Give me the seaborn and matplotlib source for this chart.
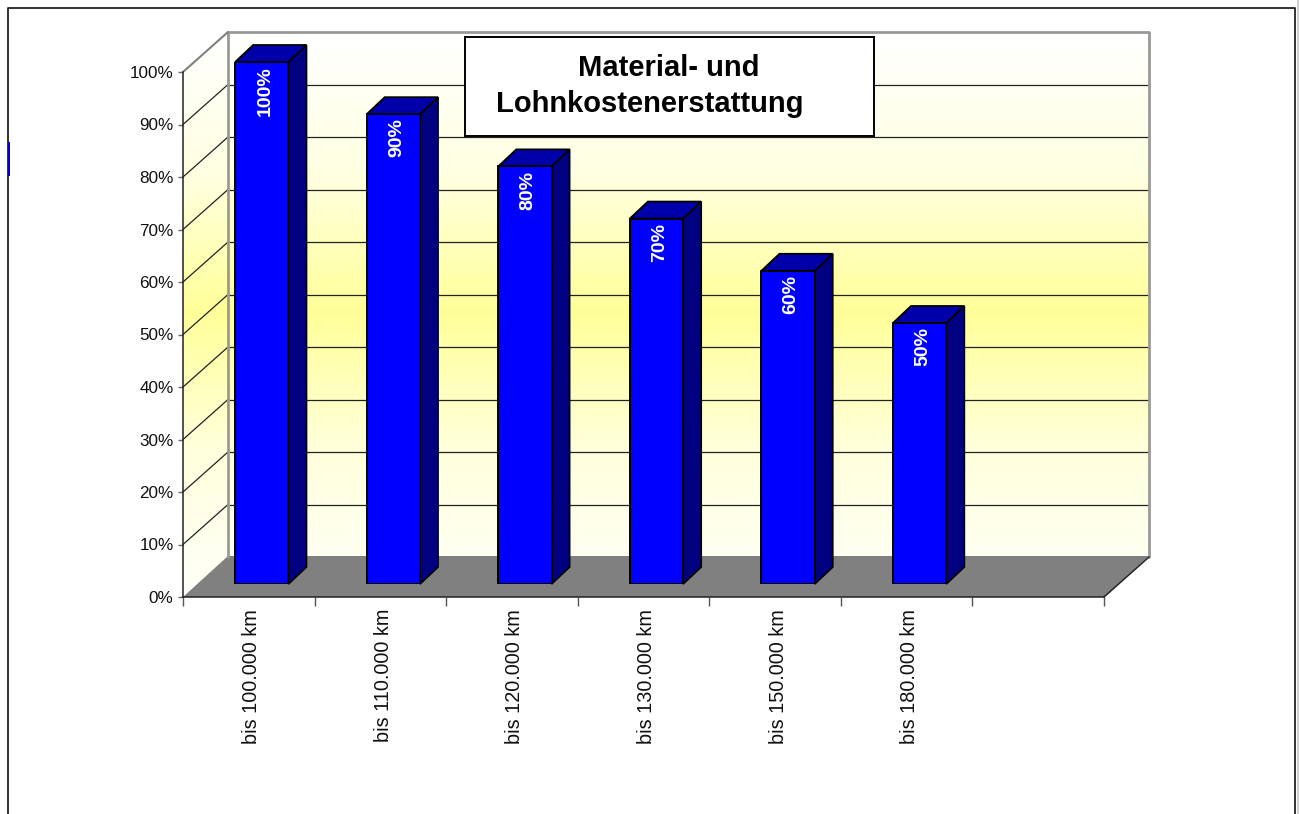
import numpy as np
import pandas as pd
import seaborn as sns
from matplotlib import pyplot as plt
from matplotlib.colors import LinearSegmentedColormap
from matplotlib.patches import Polygon, Rectangle
from matplotlib.transforms import Affine2D, IdentityTransform

sns.set_theme(style='white')
plt.rcParams['font.family'] = ['Liberation Sans', 'DejaVu Sans']

categories = ['bis 100.000 km', 'bis 110.000 km', 'bis 120.000 km',
              'bis 130.000 km', 'bis 150.000 km', 'bis 180.000 km']
erstattung = [100, 90, 80, 70, 60, 50]
bar_labels = ['100%', '90%', '80%', '70%', '60%', '50%']
y_ticks = [0, 10, 20, 30, 40, 50, 60, 70, 80, 90, 100]
y_tick_labels = ['0%', '10%', '20%', '30%', '40%', '50%', '60%', '70%', '80%', '90%', '100%']
title_lines = ['Material- und', 'Lohnkostenerstattung']

W, H = 1299, 814
DEPTH = (45, 40)      # wall depth in px
BAR_DEPTH = (18, 17)  # bar depth in px


def px_axes(fig, left, top, right, bottom, **kw):
    # axes placed by reference pixel coordinates
    return fig.add_axes([left / W, (H - bottom) / H, (right - left) / W, (bottom - top) / H], **kw)


def draw_background(ax):
    ax.set_xlim(0, W)
    ax.set_ylim(H, 0)
    ax.axis('off')

    cmap = LinearSegmentedColormap.from_list('wall', [(0, '#ffffff'), (0.25, '#ffffe2'), (0.5, '#ffff99'),
                                                      (0.75, '#ffffdc'), (1, '#fffff8')])
    grad = np.linspace(0, 1, 256).reshape(-1, 1)
    walls = [[(228, 33), (1149, 33), (1149, 556), (228, 556)],
             [(183, 72), (228, 33), (228, 556), (183, 597)]]
    for pts in walls:
        im = ax.imshow(grad, cmap=cmap, aspect='auto', extent=(183, 1149, 590, 33), zorder=1)
        im.set_clip_path(Polygon(pts, transform=ax.transData))
    ax.set_xlim(0, W)
    ax.set_ylim(H, 0)

    # outer frame, open at the bottom
    ax.plot([8, 8, 1295, 1295], [H, 8, 8, H], color='#222222', lw=1.3, zorder=2)
    ax.add_patch(Rectangle((8, 142), 2, 34, color='#0000cc', lw=0, zorder=3))
    ax.add_patch(Rectangle((1297, 0), 2, H, color='#cfcfcf', lw=0, zorder=3))

    ax.add_patch(Polygon([(183, 597), (1104, 597), (1149, 556), (228, 556)],
                         facecolor='#808080', edgecolor='none', zorder=2))


def draw_walls(ax):
    back = ax.transData + Affine2D().translate(*DEPTH)
    to_disp = ax.transData.transform
    x0, x1 = ax.get_xlim()

    for v in y_ticks[1:-1]:
        ax.plot([x0, x1], [v, v], transform=back, color='#222222', lw=0.9, clip_on=False, zorder=1)
        p = to_disp((x0, v))
        ax.plot([p[0], p[0] + DEPTH[0]], [p[1], p[1] + DEPTH[1]], transform=IdentityTransform(),
                color='#222222', lw=0.9, clip_on=False, zorder=1)

    # grey wall edges
    ax.plot([x0, x0, x1, x1], [0, 100, 100, 0], transform=back, color='#999999', lw=2, clip_on=False, zorder=1.5)
    p = to_disp((x0, 100))
    ax.plot([p[0], p[0] + DEPTH[0]], [p[1], p[1] + DEPTH[1]], transform=IdentityTransform(),
            color='#808080', lw=1.5, clip_on=False, zorder=1.5)
    # right floor edge
    p = to_disp((x1, 0))
    ax.plot([p[0], p[0] + DEPTH[0]], [p[1], p[1] + DEPTH[1]], transform=IdentityTransform(),
            color='#222222', lw=1.1, clip_on=False, zorder=1.5)


def draw_bar_sides(ax):
    dx, dy = BAR_DEPTH
    for bar in ax.patches:
        (xa, ya), (xb, yb) = ax.transData.transform(
            [(bar.get_x(), 0), (bar.get_x() + bar.get_width(), bar.get_height())])
        top = [(xa, yb), (xb, yb), (xb + dx, yb + dy), (xa + dx, yb + dy)]
        side = [(xb, ya), (xb, yb), (xb + dx, yb + dy), (xb + dx, ya + dy)]
        ax.add_patch(Polygon(top, transform=IdentityTransform(), facecolor='#0000aa',
                             edgecolor='black', lw=1.3, zorder=1, clip_on=False))
        ax.add_patch(Polygon(side, transform=IdentityTransform(), facecolor='#000080',
                             edgecolor='black', lw=1.3, zorder=1, clip_on=False))
        bar.set_zorder(2)


fig = plt.figure(figsize=(W / 100, H / 100), dpi=100, facecolor='white')

bg = fig.add_axes([0, 0, 1, 1], zorder=0)
draw_background(bg)

# front plane: carries both axes
canvas = px_axes(fig, 183, 72, 1104, 597, zorder=1)
canvas.patch.set_visible(False)
canvas.set_xlim(-0.5, 6.5)
canvas.set_ylim(0, 100)
for side in ['top', 'right']:
    canvas.spines[side].set_visible(False)
for side in ['left', 'bottom']:
    canvas.spines[side].set_color('#222222')
    canvas.spines[side].set_linewidth(1.1)
canvas.set_yticks(y_ticks, y_tick_labels, fontsize=12.3, color='#111111')
canvas.tick_params(axis='y', left=True, length=3.6, width=1, color='#666666', pad=3.2)
canvas.set_xticks(np.arange(-0.5, 7.5, 1), [])
canvas.tick_params(axis='x', which='major', bottom=True, length=6.5, width=1, color='#555555')
canvas.set_xticks(np.arange(len(categories)), categories, minor=True, rotation=90, fontsize=14.3, color='#111111')
canvas.tick_params(axis='x', which='minor', bottom=False, length=0, pad=8.5)
for lab in canvas.get_xticklabels(minor=True):
    lab.set_transform(lab.get_transform() + Affine2D().translate(3, 0))
draw_walls(canvas)

# bars stand a little inside the floor
bars_ax = px_axes(fig, 196, 62, 1117, 584, zorder=2)
df = pd.DataFrame({'km': categories, 'wert': erstattung})
sns.barplot(data=df, x='km', y='wert', ax=bars_ax, color='#0000ff', saturation=1, width=0.405,
            edgecolor='black', linewidth=1.4)
bars_ax.set_xlim(-0.5, 6.5)
bars_ax.set_ylim(0, 100)
bars_ax.axis('off')
draw_bar_sides(bars_ax)

for i, (val, lab) in enumerate(zip(erstattung, bar_labels)):
    bars_ax.annotate(lab, (i, val), xytext=(2.2, -3), textcoords='offset points', rotation=90,
                     ha='center', va='top', color='white', fontsize=14, fontweight='bold', zorder=5)

# title box
box = px_axes(fig, 465, 37, 874, 136, zorder=3)
box.set_xticks([])
box.set_yticks([])
box.set_facecolor('white')
for s in box.spines.values():
    s.set_color('black')
    s.set_linewidth(1.4)
fig.text(669 / W, 1 - 68 / H, title_lines[0], ha='center', va='center', fontsize=21, fontweight='bold',
         color='black', zorder=10)
fig.text(649.5 / W, 1 - 104 / H, title_lines[1], ha='center', va='center', fontsize=21, fontweight='bold',
         color='black', zorder=10)

fig.savefig('out.png', dpi=100)
